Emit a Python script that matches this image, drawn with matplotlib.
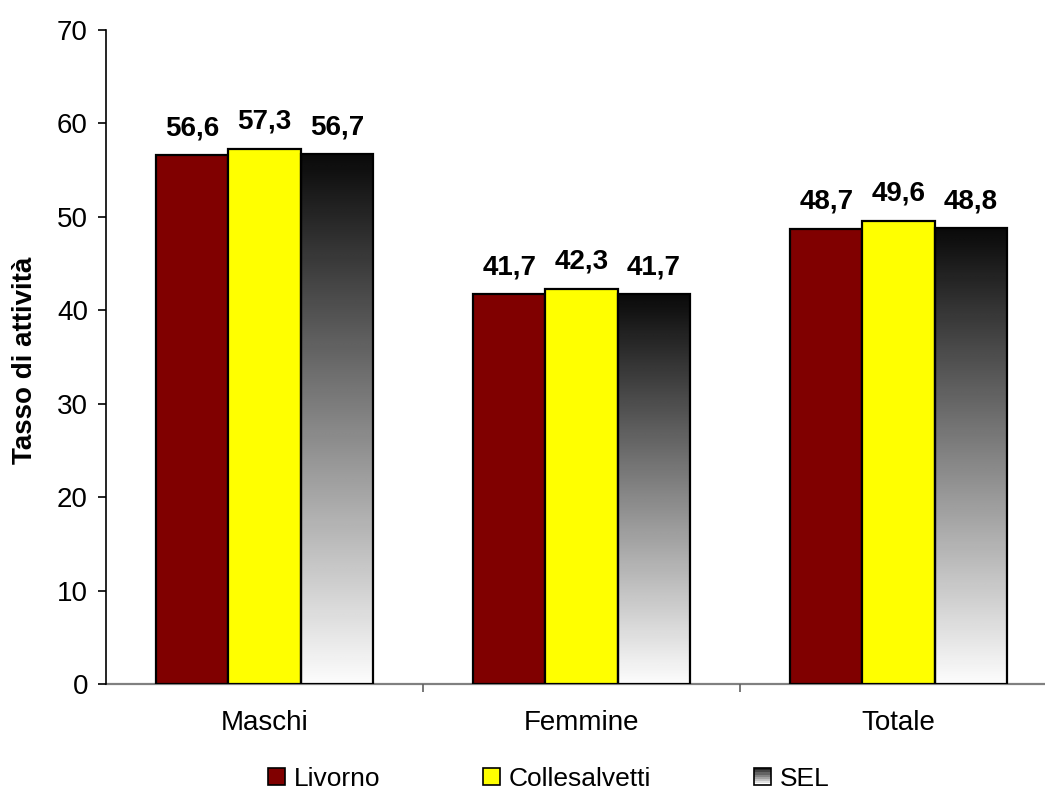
import numpy as np
import matplotlib
matplotlib.use("Agg")
import matplotlib.pyplot as plt
from matplotlib.patches import Rectangle
from matplotlib.legend_handler import HandlerBase

plt.rcParams['font.family'] = ['Liberation Sans', 'DejaVu Sans']

categories = ["Maschi", "Femmine", "Totale"]
series_names = ["Livorno", "Collesalvetti", "SEL"]
livorno = [56.6, 41.7, 48.7]
collesalvetti = [57.3, 42.3, 49.6]
sel = [56.7, 41.7, 48.8]
y_ticks = [0, 10, 20, 30, 40, 50, 60, 70]

series = [livorno, collesalvetti, sel]
colors = ["#800000", "#ffff00", None]

fig = plt.figure(figsize=(10.45, 7.91), dpi=100)
ax = fig.add_axes([106 / 1045, 1 - 684 / 791, 951 / 1045, (684 - 30) / 791])

x = np.arange(len(categories))
width = 0.228
offsets = [-width, 0, width]

# vertical gradient: dark at the top of the bar, white at the base
grad = np.linspace(0.04, 0.99, 256).reshape(-1, 1)

for vals, col, off in zip(series, colors, offsets):
    for xi, v in zip(x, vals):
        left = xi + off - width / 2
        if col is None:
            ax.imshow(grad, cmap="gray", vmin=0, vmax=1, aspect="auto",
                      extent=(left, left + width, 0, v), origin="upper",
                      zorder=2, interpolation="bilinear")
            ax.add_patch(Rectangle((left, 0), width, v, facecolor="none",
                                   edgecolor="black", linewidth=1.6, zorder=3))
        else:
            ax.add_patch(Rectangle((left, 0), width, v, facecolor=col,
                                   edgecolor="black", linewidth=1.6, zorder=3))
        ax.text(xi + off, v + 1.5, f"{v:.1f}".replace(".", ","),
                ha="center", va="bottom", fontsize=20, fontweight="bold",
                zorder=4)

ax.set_xlim(-0.5, 2.5)
ax.set_ylim(0, 70)
ax.set_yticks(y_ticks)
ax.set_yticklabels([str(t) for t in y_ticks], fontsize=20)
ax.set_xticks([0.5, 1.5])
ax.set_xticklabels([])
ax.set_xticks(x, minor=True)
ax.set_xticklabels(categories, minor=True, fontsize=20)
ax.tick_params(axis="x", which="minor", length=0, pad=19)
ax.tick_params(axis="x", which="major", length=6, width=1.2, color="#606060")
ax.tick_params(axis="y", length=6, width=1.2, pad=7)
ax.set_ylabel("Tasso di attività", fontsize=20, fontweight="bold")
ax.yaxis.set_label_coords(-0.0715, 0.495)

for s in ["top", "right"]:
    ax.spines[s].set_visible(False)
ax.spines["left"].set_linewidth(1.2)
ax.spines["bottom"].set_color("#808080")
ax.spines["bottom"].set_linewidth(1.6)
ax.spines["bottom"].set_zorder(1)


class GradientHandler(HandlerBase):
    def create_artists(self, legend, orig_handle, xdescent, ydescent,
                       width, height, fontsize, trans):
        artists = []
        n = 8
        side = height
        x0 = -xdescent + (width - side) / 2
        for i in range(n):
            g = 0.15 + 0.85 * i / (n - 1)
            r = Rectangle((x0, -ydescent + side * (n - 1 - i) / n), side, side / n,
                          facecolor=(g, g, g), edgecolor="none", transform=trans)
            artists.append(r)
        artists.append(Rectangle((x0, -ydescent), side, side, facecolor="none",
                                 edgecolor="black", linewidth=1.2, transform=trans))
        return artists


class SquareHandler(HandlerBase):
    def create_artists(self, legend, orig_handle, xdescent, ydescent,
                       width, height, fontsize, trans):
        side = height
        x0 = -xdescent + (width - side) / 2
        return [Rectangle((x0, -ydescent), side, side,
                          facecolor=orig_handle.get_facecolor(),
                          edgecolor="black", linewidth=1.2, transform=trans)]


h_liv = Rectangle((0, 0), 1, 1, facecolor=colors[0])
h_col = Rectangle((0, 0), 1, 1, facecolor=colors[1])
h_sel = Rectangle((0, 0), 1, 1, facecolor="gray")
fig.legend([h_liv, h_col, h_sel], series_names, loc="center",
           bbox_to_anchor=(0.525, 1 - 779 / 791), ncol=3, frameon=False,
           fontsize=19, handlelength=0.62, handleheight=0.62, handletextpad=0.35,
           columnspacing=3.9,
           handler_map={h_liv: SquareHandler(), h_col: SquareHandler(),
                        h_sel: GradientHandler()})

fig.savefig("out.png", dpi=100)
